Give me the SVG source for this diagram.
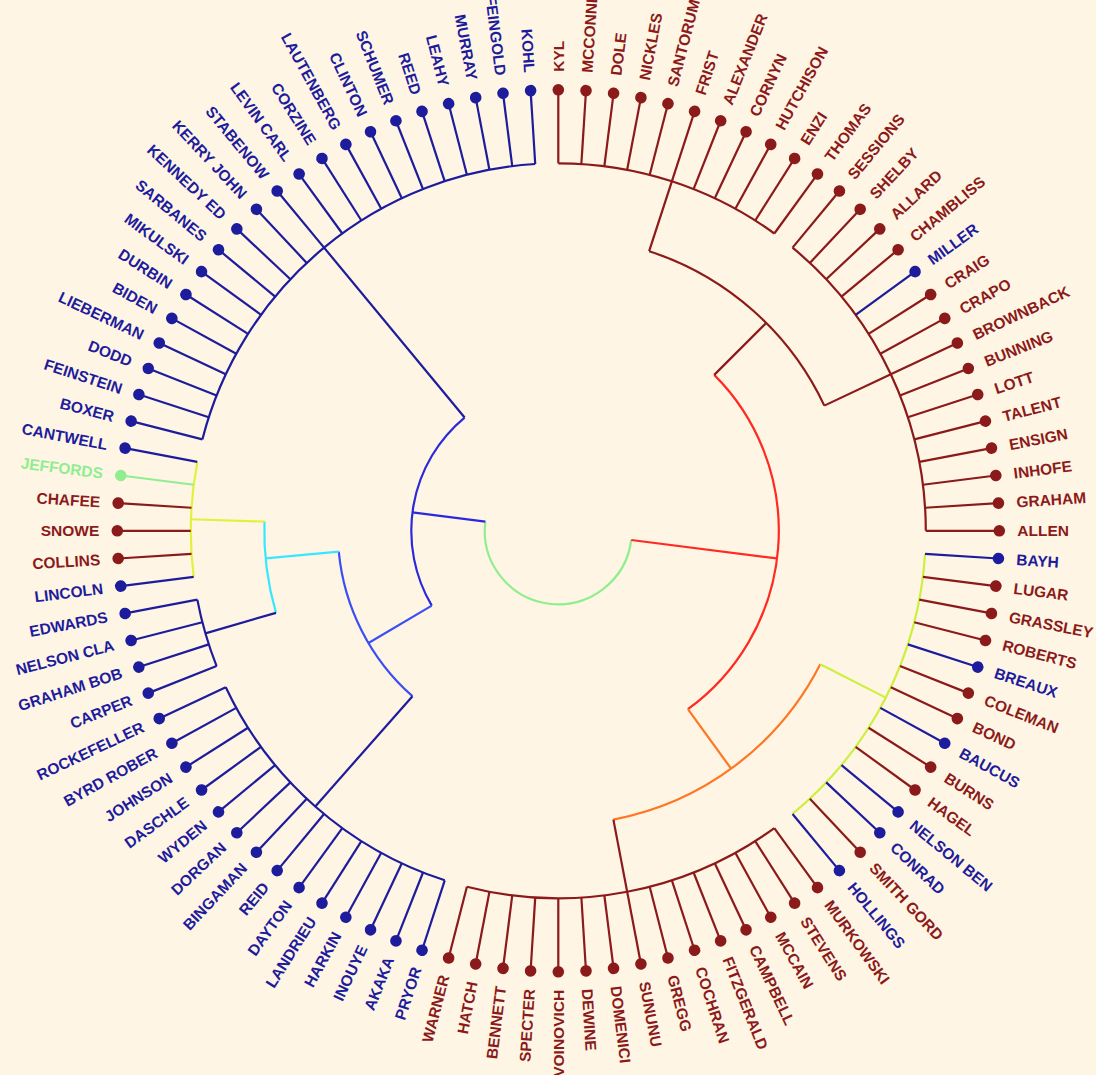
<svg xmlns="http://www.w3.org/2000/svg" width="1096" height="1075" viewBox="0 0 1096 1075">
<style>
.c path,.c line{fill:none;stroke-width:2.2}
.sr{stroke:#8B1A1A}.sb{stroke:#1C1C9C}.sg{stroke:#90EE90}
.r{fill:#8B1A1A}.b{fill:#1C1C9C}.g{fill:#90EE90}
text{font-family:"Liberation Sans",Arial,sans-serif;font-weight:bold;font-size:15.5px}
.f text{text-anchor:end}
</style>
<rect width="1096" height="1075" fill="#FFF5E4"/>
<g transform="translate(558.3 530.8)">
<g id="connectors" class="c">
<path stroke="#90EE90" d="M72.92 9.21A73.5 73.5 0 0 1 -9.21 72.92A73.5 73.5 0 0 1 -72.92 -9.21"/>
<path stroke="#FF2B22" d="M155.92 -155.92A220.5 220.5 0 0 1 129.61 178.39"/>
<path class="sr" d="M90.85 -279.61A294 294 0 0 1 266.02 -125.18"/>
<path class="sr" d="M0 -367.5A367.5 367.5 0 0 1 216.01 -297.31"/>
<path class="sr" d="M234.25 -283.16A367.5 367.5 0 0 1 367.5 0"/>
<path stroke="#FF7722" d="M261.96 133.47A294 294 0 0 1 55.09 288.79"/>
<path stroke="#CCF040" d="M366.78 23.08A367.5 367.5 0 0 1 234.25 283.16"/>
<path class="sr" d="M216.01 297.31A367.5 367.5 0 0 1 -91.39 355.95"/>
<path stroke="#2A2ADB" d="M-126.53 74.83A147 147 0 0 1 -93.70 -113.27"/>
<path class="sb" d="M-355.95 -91.39A367.5 367.5 0 0 1 -23.08 -366.78"/>
<path stroke="#3A50F5" d="M-145.82 165.40A220.5 220.5 0 0 1 -219.52 20.75"/>
<path class="sb" d="M-113.56 349.51A367.5 367.5 0 0 1 -332.53 156.47"/>
<path stroke="#36E8FF" d="M-282.33 82.02A294 294 0 0 1 -293.86 -9.23"/>
<path class="sb" d="M-341.69 135.28A367.5 367.5 0 0 1 -360.99 68.86"/>
<path stroke="#E2F23C" d="M-364.60 46.06A367.5 367.5 0 0 1 -360.99 -68.86"/>
<line stroke="#FF2B22" transform="rotate(7.2)" x1="73.5" x2="220.5"/>
<line class="sr" transform="rotate(-45)" x1="220.5" x2="294"/>
<line class="sr" transform="rotate(-72)" x1="294" x2="367.5"/>
<line class="sr" transform="rotate(-25.2)" x1="294" x2="367.5"/>
<line stroke="#FF7722" transform="rotate(54)" x1="220.5" x2="294"/>
<line stroke="#CCF040" transform="rotate(27)" x1="294" x2="367.5"/>
<line class="sr" transform="rotate(79.2)" x1="294" x2="367.5"/>
<line stroke="#2A2ADB" transform="rotate(187.2)" x1="73.5" x2="147"/>
<line class="sb" transform="rotate(230.4)" x1="147" x2="367.5"/>
<line stroke="#3A50F5" transform="rotate(149.4)" x1="147" x2="220.5"/>
<line class="sb" transform="rotate(131.4)" x1="220.5" x2="367.5"/>
<line stroke="#36E8FF" transform="rotate(174.6)" x1="220.5" x2="294"/>
<line class="sb" transform="rotate(163.8)" x1="294" x2="367.5"/>
<line stroke="#E2F23C" transform="rotate(181.8)" x1="294" x2="367.5"/>
<g id="leaf-edges">
<line class="sr" transform="rotate(-90)" x1="367.5" x2="441"/>
<line class="sr" transform="rotate(-86.4)" x1="367.5" x2="441"/>
<line class="sr" transform="rotate(-82.8)" x1="367.5" x2="441"/>
<line class="sr" transform="rotate(-79.2)" x1="367.5" x2="441"/>
<line class="sr" transform="rotate(-75.6)" x1="367.5" x2="441"/>
<line class="sr" transform="rotate(-72)" x1="367.5" x2="441"/>
<line class="sr" transform="rotate(-68.4)" x1="367.5" x2="441"/>
<line class="sr" transform="rotate(-64.8)" x1="367.5" x2="441"/>
<line class="sr" transform="rotate(-61.2)" x1="367.5" x2="441"/>
<line class="sr" transform="rotate(-57.6)" x1="367.5" x2="441"/>
<line class="sr" transform="rotate(-54)" x1="367.5" x2="441"/>
<line class="sr" transform="rotate(-50.4)" x1="367.5" x2="441"/>
<line class="sr" transform="rotate(-46.8)" x1="367.5" x2="441"/>
<line class="sr" transform="rotate(-43.2)" x1="367.5" x2="441"/>
<line class="sr" transform="rotate(-39.6)" x1="367.5" x2="441"/>
<line class="sb" transform="rotate(-36)" x1="367.5" x2="441"/>
<line class="sr" transform="rotate(-32.4)" x1="367.5" x2="441"/>
<line class="sr" transform="rotate(-28.8)" x1="367.5" x2="441"/>
<line class="sr" transform="rotate(-25.2)" x1="367.5" x2="441"/>
<line class="sr" transform="rotate(-21.6)" x1="367.5" x2="441"/>
<line class="sr" transform="rotate(-18)" x1="367.5" x2="441"/>
<line class="sr" transform="rotate(-14.4)" x1="367.5" x2="441"/>
<line class="sr" transform="rotate(-10.8)" x1="367.5" x2="441"/>
<line class="sr" transform="rotate(-7.2)" x1="367.5" x2="441"/>
<line class="sr" transform="rotate(-3.6)" x1="367.5" x2="441"/>
<line class="sr" transform="rotate(0)" x1="367.5" x2="441"/>
<line class="sb" transform="rotate(3.6)" x1="367.5" x2="441"/>
<line class="sr" transform="rotate(7.2)" x1="367.5" x2="441"/>
<line class="sr" transform="rotate(10.8)" x1="367.5" x2="441"/>
<line class="sr" transform="rotate(14.4)" x1="367.5" x2="441"/>
<line class="sb" transform="rotate(18)" x1="367.5" x2="441"/>
<line class="sr" transform="rotate(21.6)" x1="367.5" x2="441"/>
<line class="sr" transform="rotate(25.2)" x1="367.5" x2="441"/>
<line class="sb" transform="rotate(28.8)" x1="367.5" x2="441"/>
<line class="sr" transform="rotate(32.4)" x1="367.5" x2="441"/>
<line class="sr" transform="rotate(36)" x1="367.5" x2="441"/>
<line class="sb" transform="rotate(39.6)" x1="367.5" x2="441"/>
<line class="sb" transform="rotate(43.2)" x1="367.5" x2="441"/>
<line class="sr" transform="rotate(46.8)" x1="367.5" x2="441"/>
<line class="sb" transform="rotate(50.4)" x1="367.5" x2="441"/>
<line class="sr" transform="rotate(54)" x1="367.5" x2="441"/>
<line class="sr" transform="rotate(57.6)" x1="367.5" x2="441"/>
<line class="sr" transform="rotate(61.2)" x1="367.5" x2="441"/>
<line class="sr" transform="rotate(64.8)" x1="367.5" x2="441"/>
<line class="sr" transform="rotate(68.4)" x1="367.5" x2="441"/>
<line class="sr" transform="rotate(72)" x1="367.5" x2="441"/>
<line class="sr" transform="rotate(75.6)" x1="367.5" x2="441"/>
<line class="sr" transform="rotate(79.2)" x1="367.5" x2="441"/>
<line class="sr" transform="rotate(82.8)" x1="367.5" x2="441"/>
<line class="sr" transform="rotate(86.4)" x1="367.5" x2="441"/>
<line class="sr" transform="rotate(90)" x1="367.5" x2="441"/>
<line class="sr" transform="rotate(93.6)" x1="367.5" x2="441"/>
<line class="sr" transform="rotate(97.2)" x1="367.5" x2="441"/>
<line class="sr" transform="rotate(100.8)" x1="367.5" x2="441"/>
<line class="sr" transform="rotate(104.4)" x1="367.5" x2="441"/>
<line class="sb" transform="rotate(108)" x1="367.5" x2="441"/>
<line class="sb" transform="rotate(111.6)" x1="367.5" x2="441"/>
<line class="sb" transform="rotate(115.2)" x1="367.5" x2="441"/>
<line class="sb" transform="rotate(118.8)" x1="367.5" x2="441"/>
<line class="sb" transform="rotate(122.4)" x1="367.5" x2="441"/>
<line class="sb" transform="rotate(126)" x1="367.5" x2="441"/>
<line class="sb" transform="rotate(129.6)" x1="367.5" x2="441"/>
<line class="sb" transform="rotate(133.2)" x1="367.5" x2="441"/>
<line class="sb" transform="rotate(136.8)" x1="367.5" x2="441"/>
<line class="sb" transform="rotate(140.4)" x1="367.5" x2="441"/>
<line class="sb" transform="rotate(144)" x1="367.5" x2="441"/>
<line class="sb" transform="rotate(147.6)" x1="367.5" x2="441"/>
<line class="sb" transform="rotate(151.2)" x1="367.5" x2="441"/>
<line class="sb" transform="rotate(154.8)" x1="367.5" x2="441"/>
<line class="sb" transform="rotate(158.4)" x1="367.5" x2="441"/>
<line class="sb" transform="rotate(162)" x1="367.5" x2="441"/>
<line class="sb" transform="rotate(165.6)" x1="367.5" x2="441"/>
<line class="sb" transform="rotate(169.2)" x1="367.5" x2="441"/>
<line class="sb" transform="rotate(172.8)" x1="367.5" x2="441"/>
<line class="sr" transform="rotate(176.4)" x1="367.5" x2="441"/>
<line class="sr" transform="rotate(180)" x1="367.5" x2="441"/>
<line class="sr" transform="rotate(183.6)" x1="367.5" x2="441"/>
<line class="sg" transform="rotate(187.2)" x1="367.5" x2="441"/>
<line class="sb" transform="rotate(190.8)" x1="367.5" x2="441"/>
<line class="sb" transform="rotate(194.4)" x1="367.5" x2="441"/>
<line class="sb" transform="rotate(198)" x1="367.5" x2="441"/>
<line class="sb" transform="rotate(201.6)" x1="367.5" x2="441"/>
<line class="sb" transform="rotate(205.2)" x1="367.5" x2="441"/>
<line class="sb" transform="rotate(208.8)" x1="367.5" x2="441"/>
<line class="sb" transform="rotate(212.4)" x1="367.5" x2="441"/>
<line class="sb" transform="rotate(216)" x1="367.5" x2="441"/>
<line class="sb" transform="rotate(219.6)" x1="367.5" x2="441"/>
<line class="sb" transform="rotate(223.2)" x1="367.5" x2="441"/>
<line class="sb" transform="rotate(226.8)" x1="367.5" x2="441"/>
<line class="sb" transform="rotate(230.4)" x1="367.5" x2="441"/>
<line class="sb" transform="rotate(234)" x1="367.5" x2="441"/>
<line class="sb" transform="rotate(237.6)" x1="367.5" x2="441"/>
<line class="sb" transform="rotate(241.2)" x1="367.5" x2="441"/>
<line class="sb" transform="rotate(244.8)" x1="367.5" x2="441"/>
<line class="sb" transform="rotate(248.4)" x1="367.5" x2="441"/>
<line class="sb" transform="rotate(252)" x1="367.5" x2="441"/>
<line class="sb" transform="rotate(255.6)" x1="367.5" x2="441"/>
<line class="sb" transform="rotate(259.2)" x1="367.5" x2="441"/>
<line class="sb" transform="rotate(262.8)" x1="367.5" x2="441"/>
<line class="sb" transform="rotate(266.4)" x1="367.5" x2="441"/>
</g>
</g>
<g id="leaves">
<g id="leaf-kyl" class="r" transform="rotate(-90)"><circle cx="441" r="5.8"/><text x="459" dy=".35em">KYL</text></g>
<g id="leaf-mcconnell" class="r" transform="rotate(-86.4)"><circle cx="441" r="5.8"/><text x="459" dy=".35em">MCCONNELL</text></g>
<g id="leaf-dole" class="r" transform="rotate(-82.8)"><circle cx="441" r="5.8"/><text x="459" dy=".35em">DOLE</text></g>
<g id="leaf-nickles" class="r" transform="rotate(-79.2)"><circle cx="441" r="5.8"/><text x="459" dy=".35em">NICKLES</text></g>
<g id="leaf-santorum" class="r" transform="rotate(-75.6)"><circle cx="441" r="5.8"/><text x="459" dy=".35em">SANTORUM</text></g>
<g id="leaf-frist" class="r" transform="rotate(-72)"><circle cx="441" r="5.8"/><text x="459" dy=".35em">FRIST</text></g>
<g id="leaf-alexander" class="r" transform="rotate(-68.4)"><circle cx="441" r="5.8"/><text x="459" dy=".35em">ALEXANDER</text></g>
<g id="leaf-cornyn" class="r" transform="rotate(-64.8)"><circle cx="441" r="5.8"/><text x="459" dy=".35em">CORNYN</text></g>
<g id="leaf-hutchison" class="r" transform="rotate(-61.2)"><circle cx="441" r="5.8"/><text x="459" dy=".35em">HUTCHISON</text></g>
<g id="leaf-enzi" class="r" transform="rotate(-57.6)"><circle cx="441" r="5.8"/><text x="459" dy=".35em">ENZI</text></g>
<g id="leaf-thomas" class="r" transform="rotate(-54)"><circle cx="441" r="5.8"/><text x="459" dy=".35em">THOMAS</text></g>
<g id="leaf-sessions" class="r" transform="rotate(-50.4)"><circle cx="441" r="5.8"/><text x="459" dy=".35em">SESSIONS</text></g>
<g id="leaf-shelby" class="r" transform="rotate(-46.8)"><circle cx="441" r="5.8"/><text x="459" dy=".35em">SHELBY</text></g>
<g id="leaf-allard" class="r" transform="rotate(-43.2)"><circle cx="441" r="5.8"/><text x="459" dy=".35em">ALLARD</text></g>
<g id="leaf-chambliss" class="r" transform="rotate(-39.6)"><circle cx="441" r="5.8"/><text x="459" dy=".35em">CHAMBLISS</text></g>
<g id="leaf-miller" class="b" transform="rotate(-36)"><circle cx="441" r="5.8"/><text x="459" dy=".35em">MILLER</text></g>
<g id="leaf-craig" class="r" transform="rotate(-32.4)"><circle cx="441" r="5.8"/><text x="459" dy=".35em">CRAIG</text></g>
<g id="leaf-crapo" class="r" transform="rotate(-28.8)"><circle cx="441" r="5.8"/><text x="459" dy=".35em">CRAPO</text></g>
<g id="leaf-brownback" class="r" transform="rotate(-25.2)"><circle cx="441" r="5.8"/><text x="459" dy=".35em">BROWNBACK</text></g>
<g id="leaf-bunning" class="r" transform="rotate(-21.6)"><circle cx="441" r="5.8"/><text x="459" dy=".35em">BUNNING</text></g>
<g id="leaf-lott" class="r" transform="rotate(-18)"><circle cx="441" r="5.8"/><text x="459" dy=".35em">LOTT</text></g>
<g id="leaf-talent" class="r" transform="rotate(-14.4)"><circle cx="441" r="5.8"/><text x="459" dy=".35em">TALENT</text></g>
<g id="leaf-ensign" class="r" transform="rotate(-10.8)"><circle cx="441" r="5.8"/><text x="459" dy=".35em">ENSIGN</text></g>
<g id="leaf-inhofe" class="r" transform="rotate(-7.2)"><circle cx="441" r="5.8"/><text x="459" dy=".35em">INHOFE</text></g>
<g id="leaf-graham" class="r" transform="rotate(-3.6)"><circle cx="441" r="5.8"/><text x="459" dy=".35em">GRAHAM</text></g>
<g id="leaf-allen" class="r" transform="rotate(0)"><circle cx="441" r="5.8"/><text x="459" dy=".35em">ALLEN</text></g>
<g id="leaf-bayh" class="b" transform="rotate(3.6)"><circle cx="441" r="5.8"/><text x="459" dy=".35em">BAYH</text></g>
<g id="leaf-lugar" class="r" transform="rotate(7.2)"><circle cx="441" r="5.8"/><text x="459" dy=".35em">LUGAR</text></g>
<g id="leaf-grassley" class="r" transform="rotate(10.8)"><circle cx="441" r="5.8"/><text x="459" dy=".35em">GRASSLEY</text></g>
<g id="leaf-roberts" class="r" transform="rotate(14.4)"><circle cx="441" r="5.8"/><text x="459" dy=".35em">ROBERTS</text></g>
<g id="leaf-breaux" class="b" transform="rotate(18)"><circle cx="441" r="5.8"/><text x="459" dy=".35em">BREAUX</text></g>
<g id="leaf-coleman" class="r" transform="rotate(21.6)"><circle cx="441" r="5.8"/><text x="459" dy=".35em">COLEMAN</text></g>
<g id="leaf-bond" class="r" transform="rotate(25.2)"><circle cx="441" r="5.8"/><text x="459" dy=".35em">BOND</text></g>
<g id="leaf-baucus" class="b" transform="rotate(28.8)"><circle cx="441" r="5.8"/><text x="459" dy=".35em">BAUCUS</text></g>
<g id="leaf-burns" class="r" transform="rotate(32.4)"><circle cx="441" r="5.8"/><text x="459" dy=".35em">BURNS</text></g>
<g id="leaf-hagel" class="r" transform="rotate(36)"><circle cx="441" r="5.8"/><text x="459" dy=".35em">HAGEL</text></g>
<g id="leaf-nelson-ben" class="b" transform="rotate(39.6)"><circle cx="441" r="5.8"/><text x="459" dy=".35em">NELSON BEN</text></g>
<g id="leaf-conrad" class="b" transform="rotate(43.2)"><circle cx="441" r="5.8"/><text x="459" dy=".35em">CONRAD</text></g>
<g id="leaf-smith-gord" class="r" transform="rotate(46.8)"><circle cx="441" r="5.8"/><text x="459" dy=".35em">SMITH GORD</text></g>
<g id="leaf-hollings" class="b" transform="rotate(50.4)"><circle cx="441" r="5.8"/><text x="459" dy=".35em">HOLLINGS</text></g>
<g id="leaf-murkowski" class="r" transform="rotate(54)"><circle cx="441" r="5.8"/><text x="459" dy=".35em">MURKOWSKI</text></g>
<g id="leaf-stevens" class="r" transform="rotate(57.6)"><circle cx="441" r="5.8"/><text x="459" dy=".35em">STEVENS</text></g>
<g id="leaf-mccain" class="r" transform="rotate(61.2)"><circle cx="441" r="5.8"/><text x="459" dy=".35em">MCCAIN</text></g>
<g id="leaf-campbell" class="r" transform="rotate(64.8)"><circle cx="441" r="5.8"/><text x="459" dy=".35em">CAMPBELL</text></g>
<g id="leaf-fitzgerald" class="r" transform="rotate(68.4)"><circle cx="441" r="5.8"/><text x="459" dy=".35em">FITZGERALD</text></g>
<g id="leaf-cochran" class="r" transform="rotate(72)"><circle cx="441" r="5.8"/><text x="459" dy=".35em">COCHRAN</text></g>
<g id="leaf-gregg" class="r" transform="rotate(75.6)"><circle cx="441" r="5.8"/><text x="459" dy=".35em">GREGG</text></g>
<g id="leaf-sununu" class="r" transform="rotate(79.2)"><circle cx="441" r="5.8"/><text x="459" dy=".35em">SUNUNU</text></g>
<g id="leaf-domenici" class="r" transform="rotate(82.8)"><circle cx="441" r="5.8"/><text x="459" dy=".35em">DOMENICI</text></g>
<g id="leaf-dewine" class="r" transform="rotate(86.4)"><circle cx="441" r="5.8"/><text x="459" dy=".35em">DEWINE</text></g>
<g id="leaf-voinovich" class="r f" transform="rotate(-90)"><circle cx="-441" r="5.8"/><text x="-459" dy=".35em">VOINOVICH</text></g>
<g id="leaf-specter" class="r f" transform="rotate(-86.4)"><circle cx="-441" r="5.8"/><text x="-459" dy=".35em">SPECTER</text></g>
<g id="leaf-bennett" class="r f" transform="rotate(-82.8)"><circle cx="-441" r="5.8"/><text x="-459" dy=".35em">BENNETT</text></g>
<g id="leaf-hatch" class="r f" transform="rotate(-79.2)"><circle cx="-441" r="5.8"/><text x="-459" dy=".35em">HATCH</text></g>
<g id="leaf-warner" class="r f" transform="rotate(-75.6)"><circle cx="-441" r="5.8"/><text x="-459" dy=".35em">WARNER</text></g>
<g id="leaf-pryor" class="b f" transform="rotate(-72)"><circle cx="-441" r="5.8"/><text x="-459" dy=".35em">PRYOR</text></g>
<g id="leaf-akaka" class="b f" transform="rotate(-68.4)"><circle cx="-441" r="5.8"/><text x="-459" dy=".35em">AKAKA</text></g>
<g id="leaf-inouye" class="b f" transform="rotate(-64.8)"><circle cx="-441" r="5.8"/><text x="-459" dy=".35em">INOUYE</text></g>
<g id="leaf-harkin" class="b f" transform="rotate(-61.2)"><circle cx="-441" r="5.8"/><text x="-459" dy=".35em">HARKIN</text></g>
<g id="leaf-landrieu" class="b f" transform="rotate(-57.6)"><circle cx="-441" r="5.8"/><text x="-459" dy=".35em">LANDRIEU</text></g>
<g id="leaf-dayton" class="b f" transform="rotate(-54)"><circle cx="-441" r="5.8"/><text x="-459" dy=".35em">DAYTON</text></g>
<g id="leaf-reid" class="b f" transform="rotate(-50.4)"><circle cx="-441" r="5.8"/><text x="-459" dy=".35em">REID</text></g>
<g id="leaf-bingaman" class="b f" transform="rotate(-46.8)"><circle cx="-441" r="5.8"/><text x="-459" dy=".35em">BINGAMAN</text></g>
<g id="leaf-dorgan" class="b f" transform="rotate(-43.2)"><circle cx="-441" r="5.8"/><text x="-459" dy=".35em">DORGAN</text></g>
<g id="leaf-wyden" class="b f" transform="rotate(-39.6)"><circle cx="-441" r="5.8"/><text x="-459" dy=".35em">WYDEN</text></g>
<g id="leaf-daschle" class="b f" transform="rotate(-36)"><circle cx="-441" r="5.8"/><text x="-459" dy=".35em">DASCHLE</text></g>
<g id="leaf-johnson" class="b f" transform="rotate(-32.4)"><circle cx="-441" r="5.8"/><text x="-459" dy=".35em">JOHNSON</text></g>
<g id="leaf-byrd-rober" class="b f" transform="rotate(-28.8)"><circle cx="-441" r="5.8"/><text x="-459" dy=".35em">BYRD ROBER</text></g>
<g id="leaf-rockefeller" class="b f" transform="rotate(-25.2)"><circle cx="-441" r="5.8"/><text x="-459" dy=".35em">ROCKEFELLER</text></g>
<g id="leaf-carper" class="b f" transform="rotate(-21.6)"><circle cx="-441" r="5.8"/><text x="-459" dy=".35em">CARPER</text></g>
<g id="leaf-graham-bob" class="b f" transform="rotate(-18)"><circle cx="-441" r="5.8"/><text x="-459" dy=".35em">GRAHAM BOB</text></g>
<g id="leaf-nelson-cla" class="b f" transform="rotate(-14.4)"><circle cx="-441" r="5.8"/><text x="-459" dy=".35em">NELSON CLA</text></g>
<g id="leaf-edwards" class="b f" transform="rotate(-10.8)"><circle cx="-441" r="5.8"/><text x="-459" dy=".35em">EDWARDS</text></g>
<g id="leaf-lincoln" class="b f" transform="rotate(-7.2)"><circle cx="-441" r="5.8"/><text x="-459" dy=".35em">LINCOLN</text></g>
<g id="leaf-collins" class="r f" transform="rotate(-3.6)"><circle cx="-441" r="5.8"/><text x="-459" dy=".35em">COLLINS</text></g>
<g id="leaf-snowe" class="r f" transform="rotate(0)"><circle cx="-441" r="5.8"/><text x="-459" dy=".35em">SNOWE</text></g>
<g id="leaf-chafee" class="r f" transform="rotate(3.6)"><circle cx="-441" r="5.8"/><text x="-459" dy=".35em">CHAFEE</text></g>
<g id="leaf-jeffords" class="g f" transform="rotate(7.2)"><circle cx="-441" r="5.8"/><text x="-459" dy=".35em">JEFFORDS</text></g>
<g id="leaf-cantwell" class="b f" transform="rotate(10.8)"><circle cx="-441" r="5.8"/><text x="-459" dy=".35em">CANTWELL</text></g>
<g id="leaf-boxer" class="b f" transform="rotate(14.4)"><circle cx="-441" r="5.8"/><text x="-459" dy=".35em">BOXER</text></g>
<g id="leaf-feinstein" class="b f" transform="rotate(18)"><circle cx="-441" r="5.8"/><text x="-459" dy=".35em">FEINSTEIN</text></g>
<g id="leaf-dodd" class="b f" transform="rotate(21.6)"><circle cx="-441" r="5.8"/><text x="-459" dy=".35em">DODD</text></g>
<g id="leaf-lieberman" class="b f" transform="rotate(25.2)"><circle cx="-441" r="5.8"/><text x="-459" dy=".35em">LIEBERMAN</text></g>
<g id="leaf-biden" class="b f" transform="rotate(28.8)"><circle cx="-441" r="5.8"/><text x="-459" dy=".35em">BIDEN</text></g>
<g id="leaf-durbin" class="b f" transform="rotate(32.4)"><circle cx="-441" r="5.8"/><text x="-459" dy=".35em">DURBIN</text></g>
<g id="leaf-mikulski" class="b f" transform="rotate(36)"><circle cx="-441" r="5.8"/><text x="-459" dy=".35em">MIKULSKI</text></g>
<g id="leaf-sarbanes" class="b f" transform="rotate(39.6)"><circle cx="-441" r="5.8"/><text x="-459" dy=".35em">SARBANES</text></g>
<g id="leaf-kennedy-ed" class="b f" transform="rotate(43.2)"><circle cx="-441" r="5.8"/><text x="-459" dy=".35em">KENNEDY ED</text></g>
<g id="leaf-kerry-john" class="b f" transform="rotate(46.8)"><circle cx="-441" r="5.8"/><text x="-459" dy=".35em">KERRY JOHN</text></g>
<g id="leaf-stabenow" class="b f" transform="rotate(50.4)"><circle cx="-441" r="5.8"/><text x="-459" dy=".35em">STABENOW</text></g>
<g id="leaf-levin-carl" class="b f" transform="rotate(54)"><circle cx="-441" r="5.8"/><text x="-459" dy=".35em">LEVIN CARL</text></g>
<g id="leaf-corzine" class="b f" transform="rotate(57.6)"><circle cx="-441" r="5.8"/><text x="-459" dy=".35em">CORZINE</text></g>
<g id="leaf-lautenberg" class="b f" transform="rotate(61.2)"><circle cx="-441" r="5.8"/><text x="-459" dy=".35em">LAUTENBERG</text></g>
<g id="leaf-clinton" class="b f" transform="rotate(64.8)"><circle cx="-441" r="5.8"/><text x="-459" dy=".35em">CLINTON</text></g>
<g id="leaf-schumer" class="b f" transform="rotate(68.4)"><circle cx="-441" r="5.8"/><text x="-459" dy=".35em">SCHUMER</text></g>
<g id="leaf-reed" class="b f" transform="rotate(72)"><circle cx="-441" r="5.8"/><text x="-459" dy=".35em">REED</text></g>
<g id="leaf-leahy" class="b f" transform="rotate(75.6)"><circle cx="-441" r="5.8"/><text x="-459" dy=".35em">LEAHY</text></g>
<g id="leaf-murray" class="b f" transform="rotate(79.2)"><circle cx="-441" r="5.8"/><text x="-459" dy=".35em">MURRAY</text></g>
<g id="leaf-feingold" class="b f" transform="rotate(82.8)"><circle cx="-441" r="5.8"/><text x="-459" dy=".35em">FEINGOLD</text></g>
<g id="leaf-kohl" class="b f" transform="rotate(86.4)"><circle cx="-441" r="5.8"/><text x="-459" dy=".35em">KOHL</text></g>
</g>
</g>
</svg>
